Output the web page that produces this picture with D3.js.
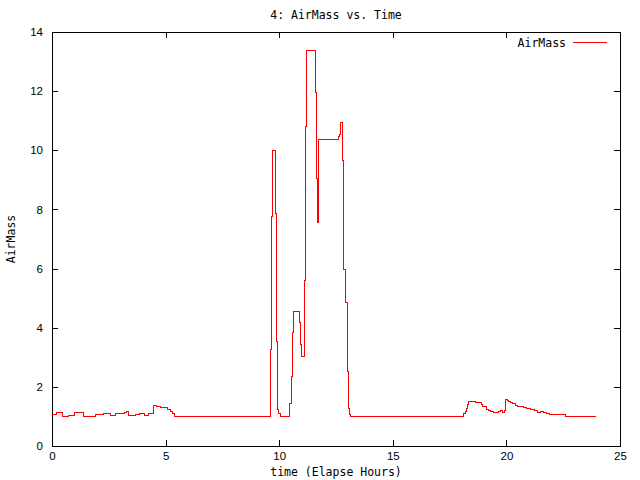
<!DOCTYPE html>
<html>
<head>
<meta charset="utf-8">
<title>4: AirMass vs. Time</title>
<style>
  body { margin: 0; background: white; }
  svg { display: block; font-family: "DejaVu Sans Mono", monospace; }
  .tick text { font-size: 11.5px; fill: black; }
  .border { fill: none; stroke: black; stroke-width: 1px; shape-rendering: crispEdges; }
  .airmass { fill: none; stroke: red; stroke-width: 1px; shape-rendering: crispEdges; }
</style>
</head>
<body>
<svg id="chart" width="640" height="480"></svg>
<script src="https://cdn.jsdelivr.net/npm/d3@7"></script>
<script>
// elapsed hours where the reading changes, and the new AirMass value
var hours = [
  0, 0.22, 0.47, 0.71, 1.01, 1.38, 1.92, 2.27, 2.56, 2.81, 3.21, 3.3, 3.38, 3.67, 3.87, 4.09,
  4.23, 4.48, 4.62, 4.78, 5.1, 5.2, 5.29, 5.38,
  9.617, 9.645, 9.688, 9.85, 9.895, 9.94, 9.99, 10.04,
  10.44, 10.52, 10.57, 10.63, 10.91, 10.95, 10.99, 11.10, 11.14, 11.18, 11.61, 11.64, 11.69, 11.72,
  12.62, 12.66, 12.69, 12.72, 12.77, 12.81, 12.85, 12.94, 12.99, 13.05, 13.09, 13.14,
  18.12, 18.18, 18.24, 18.29, 18.34, 18.63, 18.90, 18.96, 19.06, 19.13, 19.2, 19.3, 19.45, 19.65,
  19.75, 19.85, 19.91, 19.94, 19.97, 20.03, 20.11, 20.2, 20.28, 20.38, 20.48, 20.6, 20.74, 20.9,
  21.08, 21.24, 21.38, 21.5, 21.64, 21.76, 21.9, 22.1, 22.6, 23.95
];
var airmass = [
  1.07, 1.14, 1.0, 1.03, 1.14, 1.0, 1.07, 1.1, 1.03, 1.1, 1.14, 1.18, 1.03, 1.07, 1.1, 1.03,
  1.1, 1.37, 1.35, 1.3, 1.24, 1.17, 1.1, 1.0,
  3.25, 7.75, 10.0, 7.85, 3.53, 1.24, 1.1, 1.0,
  1.44, 2.34, 3.83, 4.54, 4.17, 3.42, 3.04, 5.61, 10.8, 13.38, 11.95, 9.05, 7.55, 10.38,
  10.46, 10.55, 10.78, 10.93, 9.67, 7.21, 5.97, 4.84, 2.51, 1.27, 1.05, 1.0,
  1.09, 1.17, 1.26, 1.41, 1.51, 1.47, 1.41, 1.34, 1.32, 1.25, 1.19, 1.17, 1.14, 1.18,
  1.2, 1.14, 1.2, 1.43, 1.56, 1.53, 1.50, 1.46, 1.43, 1.38, 1.35, 1.32, 1.29, 1.26,
  1.23, 1.19, 1.14, 1.18, 1.12, 1.09, 1.07, 1.05, 1.0, 1.0
];
var xTicks = [0, 5, 10, 15, 20, 25];
var yTicks = [0, 2, 4, 6, 8, 10, 12, 14];

var svg = d3.select("#chart");
var plotLeft = 52, plotRight = 620, plotTop = 32, plotBottom = 446;

var x = d3.scaleLinear().domain([0, 25]).range([plotLeft, plotRight]);
var y = d3.scaleLinear().domain([0, 14]).range([plotBottom, plotTop]);

// ticks point inward, mirrored on top and right like gnuplot
svg.append("g")
    .attr("transform", "translate(0," + plotBottom + ")")
    .call(d3.axisBottom(x).tickValues(xTicks).tickSizeInner(-6).tickSizeOuter(0).tickPadding(6))
    .call(function(g) { g.select(".domain").remove(); });
svg.append("g")
    .attr("transform", "translate(0," + plotTop + ")")
    .call(d3.axisTop(x).tickValues(xTicks).tickSizeInner(-6).tickSizeOuter(0).tickFormat(""))
    .call(function(g) { g.select(".domain").remove(); });
svg.append("g")
    .attr("transform", "translate(" + plotLeft + ",0)")
    .call(d3.axisLeft(y).tickValues(yTicks).tickSizeInner(-6).tickSizeOuter(0).tickPadding(9))
    .call(function(g) { g.select(".domain").remove(); });
svg.append("g")
    .attr("transform", "translate(" + plotRight + ",0)")
    .call(d3.axisRight(y).tickValues(yTicks).tickSizeInner(-6).tickSizeOuter(0).tickFormat(""))
    .call(function(g) { g.select(".domain").remove(); });

svg.selectAll(".tick line").attr("stroke", "black").attr("shape-rendering", "crispEdges");

svg.append("rect")
    .attr("class", "border")
    .attr("x", plotLeft + 0.5).attr("y", plotTop + 0.5)
    .attr("width", plotRight - plotLeft).attr("height", plotBottom - plotTop);

var points = hours.map(function(h, i) { return [h, airmass[i]]; });
var line = d3.line()
    .curve(d3.curveStepAfter)
    .x(function(d) { return x(d[0]); })
    .y(function(d) { return y(d[1]); });

svg.append("path")
    .datum(points)
    .attr("class", "airmass")
    .attr("d", line);

// title and axis labels
svg.append("text")
    .attr("x", (plotLeft + plotRight) / 2).attr("y", 19)
    .attr("text-anchor", "middle").attr("font-size", 11.5)
    .text("4: AirMass vs. Time");
svg.append("text")
    .attr("x", (plotLeft + plotRight) / 2).attr("y", 476)
    .attr("text-anchor", "middle").attr("font-size", 11.5)
    .text("time (Elapse Hours)");
svg.append("text")
    .attr("transform", "translate(15," + (plotTop + plotBottom) / 2 + ") rotate(-90)")
    .attr("text-anchor", "middle").attr("font-size", 11.5)
    .text("AirMass");

// legend
svg.append("text")
    .attr("x", 566).attr("y", 47)
    .attr("text-anchor", "end").attr("font-size", 11.5)
    .text("AirMass");
svg.append("line")
    .attr("x1", 573).attr("x2", 607)
    .attr("y1", 42.5).attr("y2", 42.5)
    .attr("stroke", "red").attr("stroke-width", 1)
    .attr("shape-rendering", "crispEdges");
</script>
</body>
</html>
